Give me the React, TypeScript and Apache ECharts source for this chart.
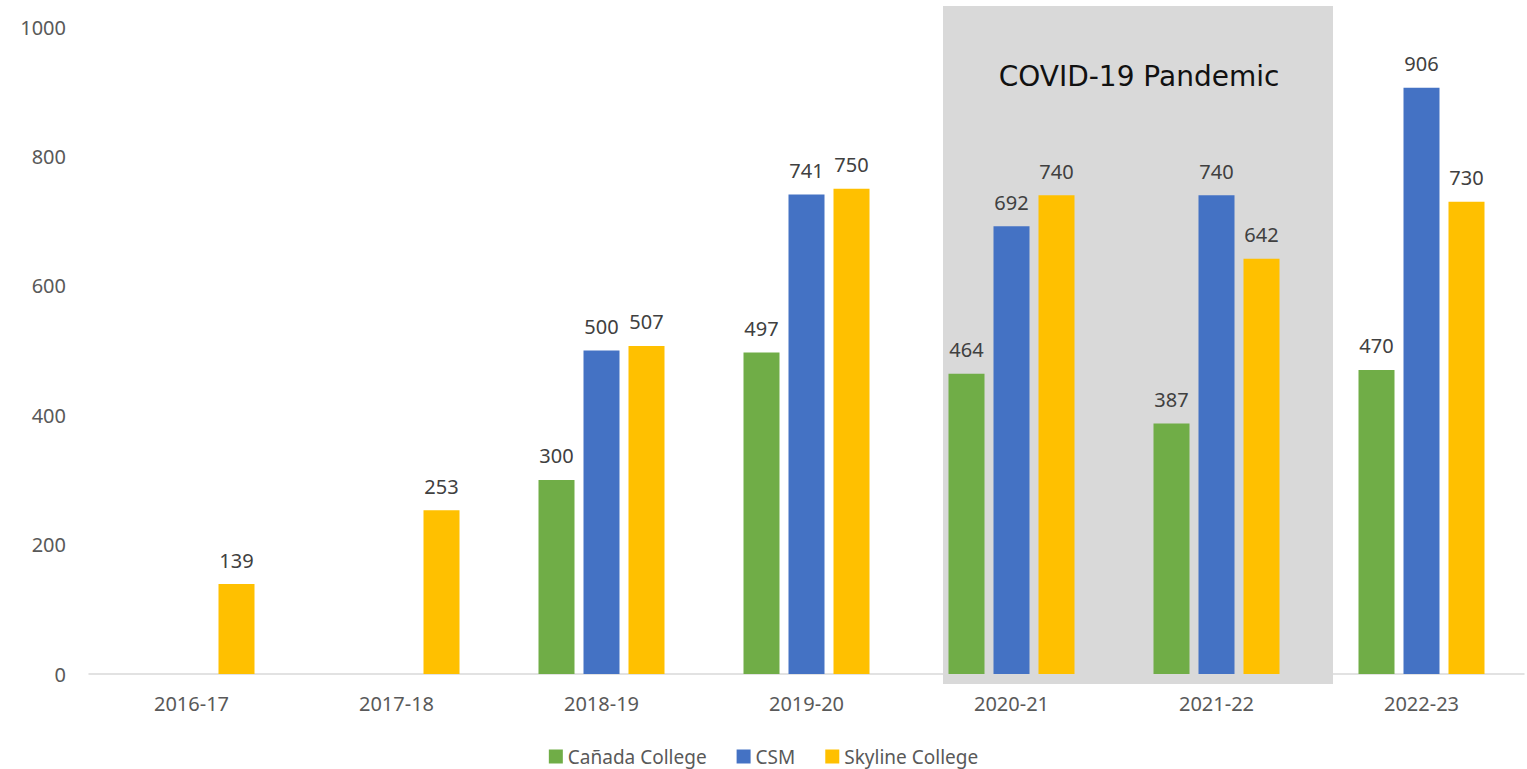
import React, { useEffect, useRef } from "react";
import * as echarts from "echarts";

const categories = ["2016-17", "2017-18", "2018-19", "2019-20", "2020-21", "2021-22", "2022-23"];
const canada = [null, null, 300, 497, 464, 387, 470];
const csm = [null, null, 500, 741, 692, 740, 906];
const skyline = [139, 253, 507, 750, 740, 642, 730];
const seriesNames = ["Cañada College", "CSM", "Skyline College"];
const colors = ["#70AD47", "#4472C4", "#FFC000"];
const annotationText = "COVID-19 Pandemic";

const FONT = "'Noto Sans', 'Open Sans', sans-serif";

export default function App() {
  const ref = useRef<HTMLDivElement>(null);
  useEffect(() => {
    if (!ref.current) return;
    const chart = echarts.init(ref.current, undefined, { renderer: "svg" });
    const label = {
      show: true,
      position: "top" as const,
      distance: 14,
      color: "#404040",
      fontSize: 20,
      fontFamily: FONT,
    };
    const mk = (name: string, data: (number | null)[], color: string) => ({
      name,
      type: "bar" as const,
      data,
      barWidth: 36,
      barGap: "25%",
      itemStyle: { color },
      label,
      z: 3,
    });
    chart.setOption({
      animation: false,
      textStyle: { fontFamily: FONT },
      grid: { left: 89, right: 3, top: 27, bottom: 95, containLabel: false },
      graphic: [
        {
          type: "rect",
          shape: { x: 943, y: 6, width: 390, height: 678 },
          style: { fill: "#D9D9D9" },
          z: -10,
          silent: true,
        },
        {
          type: "text",
          x: 1139,
          y: 76,
          style: {
            text: annotationText,
            fill: "#111111",
            font: "28px 'DejaVu Sans', sans-serif",
            align: "center",
            verticalAlign: "middle",
          },
          z: 10,
        },
      ],
      legend: {
        bottom: -2,
        left: "center",
        itemWidth: 14,
        itemHeight: 14,
        itemGap: 30,
        icon: "rect",
        textStyle: { fontSize: 19, color: "#595959", fontFamily: FONT },
        data: seriesNames,
      },
      xAxis: {
        type: "category",
        data: categories,
        axisLine: { show: true, lineStyle: { color: "#D9D9D9", width: 1.5 } },
        axisTick: { show: false },
        axisLabel: { color: "#595959", fontSize: 20, margin: 19, fontFamily: FONT },
      },
      yAxis: {
        type: "value",
        min: 0,
        max: 1000,
        interval: 200,
        splitLine: { show: false },
        axisLine: { show: false },
        axisTick: { show: false },
        axisLabel: {
          color: "#595959",
          fontSize: 20,
          margin: 23,
          fontFamily: FONT,
          formatter: (v: number) => String(v),
        },
      },
      series: [
        mk(seriesNames[0], canada, colors[0]),
        mk(seriesNames[1], csm, colors[1]),
        mk(seriesNames[2], skyline, colors[2]),
      ],
    });
    return () => chart.dispose();
  }, []);
  return <div ref={ref} style={{ width: 1527, height: 769, position: "absolute", left: 0, top: 0 }} />;
}
